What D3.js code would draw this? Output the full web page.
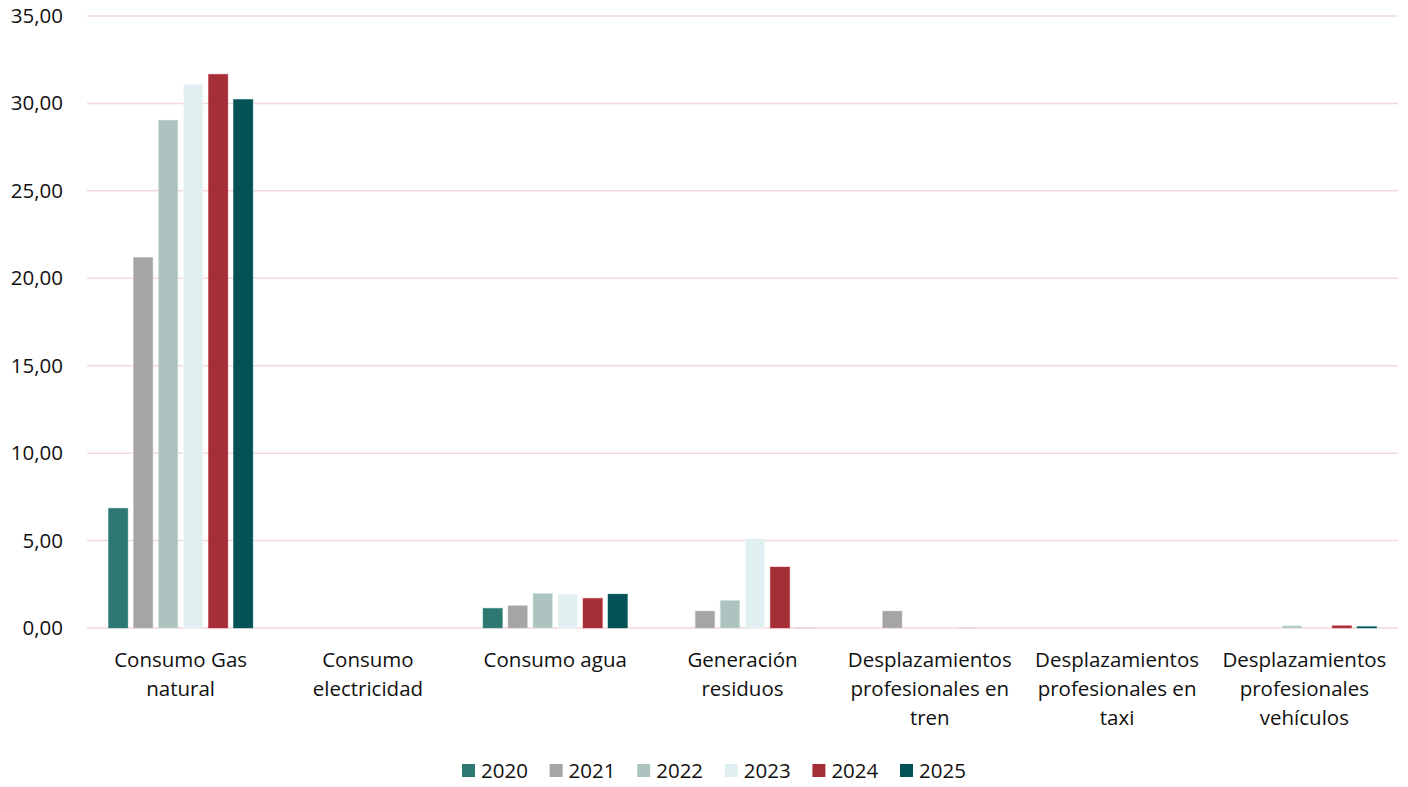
<!DOCTYPE html>
<html><head><meta charset="utf-8">
<script src="https://cdn.jsdelivr.net/npm/d3@7"></script>
<style>body{margin:0;background:#fff;} svg{display:block;}</style>
</head><body><svg id="c" width="1408" height="787"></svg>
<script>
const categories = [["Consumo Gas","natural"],["Consumo","electricidad"],["Consumo agua"],["Generación","residuos"],["Desplazamientos","profesionales en","tren"],["Desplazamientos","profesionales en","taxi"],["Desplazamientos","profesionales","vehículos"]];
const years = ["2020","2021","2022","2023","2024","2025"];
const colors = ["#2e7872","#a5a5a5","#adc3c0","#e0f0f0","#a52f38","#045256"];
const v2020 = [6.85, 0, 1.13, 0, 0, 0, 0];
const v2021 = [21.2, 0, 1.28, 0.97, 0.97, 0, 0];
const v2022 = [29.05, 0, 1.98, 1.58, 0, 0, 0.12];
const v2023 = [31.1, 0, 1.94, 5.13, 0.005, 0, 0];
const v2024 = [31.67, 0, 1.70, 3.49, 0.005, 0, 0.13];
const v2025 = [30.23, 0, 1.94, 0.005, 0, 0, 0.08];
const series = [v2020, v2021, v2022, v2023, v2024, v2025];
const yTicks = [0,5,10,15,20,25,30,35];

const svg = d3.select("#c");
const font = "'Open Sans', sans-serif";
const fs = 20.5;
const m = {l:87, r:1398, t:16, b:628};
const x = d3.scaleBand().domain(d3.range(categories.length)).range([m.l, m.r]).paddingInner(0).paddingOuter(0);
const y = d3.scaleLinear().domain([0,35]).range([m.b, m.t]);
const fmt = d => d3.format(".2f")(d).replace(".", ",");

svg.append("g").selectAll("line").data(yTicks).join("line")
  .attr("x1", m.l).attr("x2", m.r).attr("y1", d=>y(d)).attr("y2", d=>y(d))
  .attr("stroke", "#f2d9dd").attr("stroke-width", 1.5);

const yAxis = d3.axisLeft(y).tickValues(yTicks).tickFormat(fmt).tickSize(0).tickPadding(0);
const ga = svg.append("g").attr("transform", `translate(${63},0)`).call(yAxis);
ga.select(".domain").remove();
ga.selectAll("text").attr("font-family", font).attr("font-size", fs).attr("fill", "#111");

const step = 25, bw = 19.5;
const groupW = step*(years.length-1)+bw;
series.forEach((s, si) => {
  svg.append("g").selectAll("rect").data(s).join("rect")
    .attr("x", (d,i) => x(i) + x.bandwidth()/2 - groupW/2 + si*step)
    .attr("width", bw)
    .attr("y", d => y(d))
    .attr("height", d => y(0) - y(d))
    .attr("fill", colors[si])
    .attr("fill-opacity", d => d < 0.05 ? 0.25 : 1)
    .attr("stroke", d3.color(colors[si]).brighter(0.6))
    .attr("stroke-opacity", d => d < 0.05 ? 0.1 : 0.5)
    .attr("stroke-width", 0.8);
});

const gl = svg.append("g");
categories.forEach((lines, i) => {
  const t = gl.append("text").attr("x", x(i)+x.bandwidth()/2).attr("y", 667)
    .attr("text-anchor","middle").attr("font-family", font).attr("font-size", fs).attr("fill","#111");
  lines.forEach((ln, j) => t.append("tspan").attr("x", x(i)+x.bandwidth()/2).attr("dy", j===0?0:29).text(ln));
});

const leg = svg.append("g").attr("transform","translate(462,764)");
years.forEach((yr, i) => {
  const g = leg.append("g").attr("transform", `translate(${i*87.6},0)`);
  g.append("rect").attr("width",13).attr("height",13).attr("fill",colors[i]);
  g.append("text").attr("x",19).attr("y",14).attr("font-family",font).attr("font-size",fs).attr("fill","#111").text(yr);
});
</script></body></html>
